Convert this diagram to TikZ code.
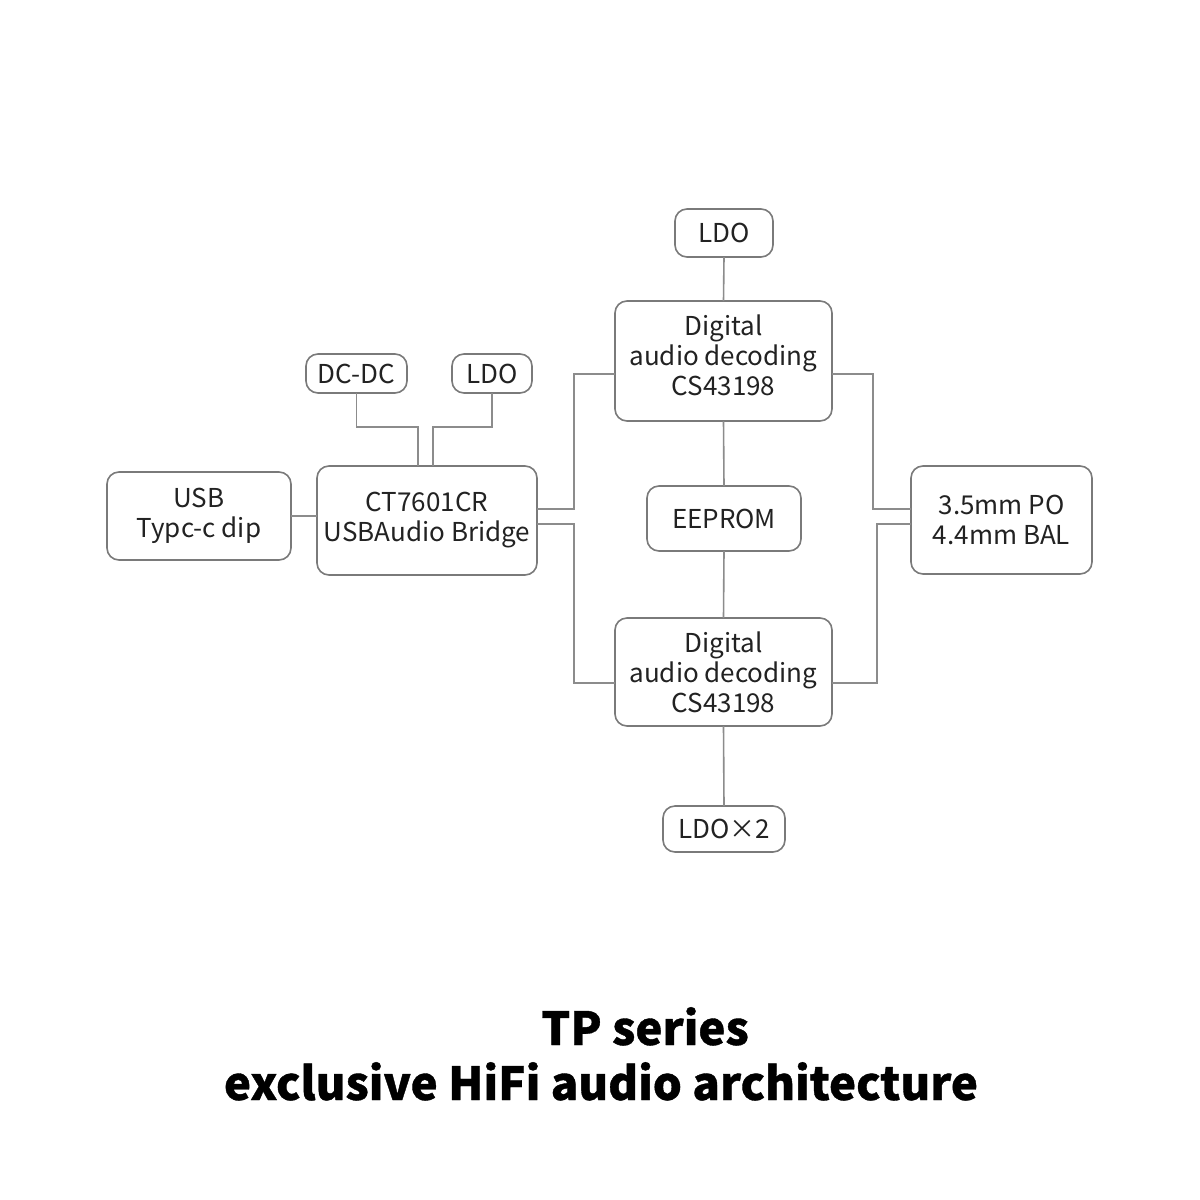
\documentclass[tikz,border=0pt]{standalone}
\usepackage{fontspec}
\setmainfont{Noto Sans CJK SC}
\newfontfamily\titlefont{Noto Sans CJK SC}[BoldFeatures={FakeBold=0.8}]
\definecolor{boxline}{HTML}{7A7A7A}
\definecolor{wire}{HTML}{8C8C8C}
\definecolor{txt}{HTML}{222222}
\begin{document}
\begin{tikzpicture}[x=0.5pt,y=-0.5pt,
  blk/.style={draw=boxline,line width=0.8pt,rounded corners=6pt,inner sep=0pt,outer sep=0pt,
    align=center,text=txt,font=\fontsize{13}{15}\selectfont},
  wireline/.style={draw=wire,line width=0.8pt}]
\useasboundingbox[fill=white] (0,0) rectangle (1200,1200);

\node[blk,minimum width=49pt,minimum height=24pt] (ldoT) at (724,233) {LDO};
\node[blk,minimum width=108.5pt,minimum height=60pt] (dig1) at (723.5,361) {Digital\\audio decoding\\CS43198\\[-9pt]\mbox{}};
\node[blk,minimum width=50.5pt,minimum height=19.5pt] (dcdc) at (356.5,373.5) {DC-DC};
\node[blk,minimum width=40pt,minimum height=19.5pt] (ldoL) at (492,373.5) {LDO};
\node[blk,minimum width=110pt,minimum height=54.5pt] (ct) at (427,520.5) {CT7601CR\\USBAudio Bridge};
\node[blk,minimum width=92pt,minimum height=44pt] (usb) at (199,516) {USB\\Typc-c dip};
\node[blk,minimum width=77pt,minimum height=32.5pt] (eep) at (724,518.5) {EEPROM};
\node[blk,minimum width=90.5pt,minimum height=54pt] (po) at (1001.5,520) {3.5mm PO\\4.4mm BAL};
\node[blk,minimum width=108.5pt,minimum height=54pt] (dig2) at (723.5,672) {Digital\\audio decoding\\CS43198};
\node[blk,minimum width=61pt,minimum height=23pt] (ldo2) at (724,829) {LDO×2};

% junction coordinates
\coordinate (jdc) at (418,427);
\coordinate (jld) at (433,427);
\coordinate (ju) at (574,509);
\coordinate (jl) at (574,524);
\coordinate (ru) at (873,374);
\coordinate (rl) at (877,683);

\draw[wireline] (usb.east) -- (usb.east -| ct.west);
\draw[wireline] (dcdc.south) |- (jdc) -- (jdc |- ct.north);
\draw[wireline] (ldoL.south) |- (jld) -- (jld |- ct.north);
\draw[wireline] (ju -| ct.east) -- (ju) |- (dig1.west |- 0,374);
\draw[wireline] (jl -| ct.east) -- (jl) |- (dig2.west |- 0,683);
\draw[wireline] (dig1.east |- ru) -- (ru) |- (po.west |- 0,509);
\draw[wireline] (dig2.east |- rl) -- (rl) |- (po.west |- 0,524);
\draw[wireline] (ldoT.south) -- (dig1.north);
\draw[wireline] (dig1.south) -- (eep.north);
\draw[wireline] (eep.south) -- (dig2.north);
\draw[wireline] (dig2.south) -- (ldo2.north);

\node[font=\titlefont\bfseries\fontsize{22.8}{26}\selectfont,text=black,anchor=base] (t1) at (645,1045) {TP series};
\node[font=\titlefont\bfseries\fontsize{22.8}{26}\selectfont,text=black,anchor=base] (t2) at (601,1100) {exclusive HiFi audio architecture};
\end{tikzpicture}
\end{document}
